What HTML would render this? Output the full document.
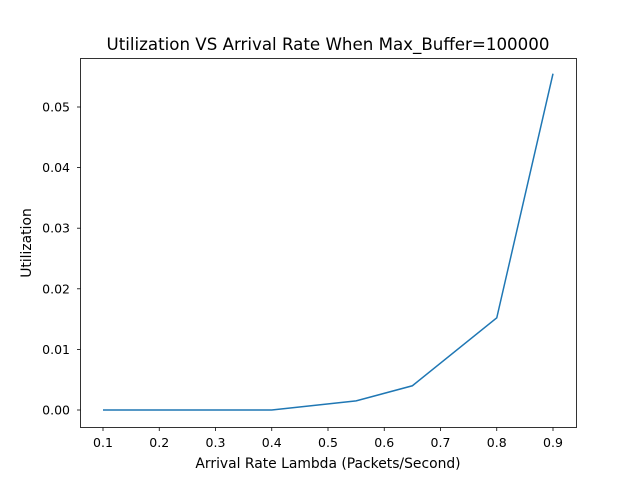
<!DOCTYPE html>
<html><head><meta charset="utf-8"><style>
body{margin:0;background:#fff;}
svg text{font-family:"DejaVu Sans","Liberation Sans",sans-serif;fill:#000;}
</style></head><body>
<svg id="chart" width="640" height="480">
<rect width="640" height="480" fill="#fff"/>
<text x="328" y="50" font-size="16.67" text-anchor="middle">Utilization VS Arrival Rate When Max_Buffer=100000</text>
<g id="ticks"></g>
<path id="line" fill="none" stroke="#1f77b4" stroke-width="1.5"/>
<rect x="80.5" y="58.5" width="496" height="369" fill="none" stroke="#000" stroke-width="0.8"/>
<text x="328" y="468" font-size="13.89" text-anchor="middle">Arrival Rate Lambda (Packets/Second)</text>
<text x="31" y="243" font-size="13.89" text-anchor="middle" transform="rotate(-90 31 243)">Utilization</text>
</svg>
<script>
const xs=[0.1,0.2,0.3,0.4,0.55,0.65,0.8,0.9];
const ys=[0,0,0,0,0.0015,0.004,0.0152,0.0555];
const xTicks=["0.1","0.2","0.3","0.4","0.5","0.6","0.7","0.8","0.9"];
const yTicks=["0.00","0.01","0.02","0.03","0.04","0.05"];
function X(v){return 103+(v-0.1)*562.5;}
function Y(v){return 410-v*6060;}
const NS="http://www.w3.org/2000/svg";
const g=document.getElementById('ticks');
xTicks.forEach(t=>{const x=X(+t);
const l=document.createElementNS(NS,'line');
l.setAttribute('x1',x);l.setAttribute('x2',x);l.setAttribute('y1',427.5);l.setAttribute('y2',431);l.setAttribute('stroke','#000');l.setAttribute('stroke-width','0.8');


g.appendChild(l);
const tx=document.createElementNS(NS,'text');
tx.setAttribute('x',x);tx.setAttribute('y',447);tx.setAttribute('font-size','12.5');tx.setAttribute('text-anchor','middle');tx.textContent=t;


g.appendChild(tx);});
yTicks.forEach(t=>{const y=Y(+t);
const l=document.createElementNS(NS,'line');
l.setAttribute('x1',77);l.setAttribute('x2',80.5);l.setAttribute('y1',y);l.setAttribute('y2',y);l.setAttribute('stroke','#000');l.setAttribute('stroke-width','0.8');


g.appendChild(l);
const tx=document.createElementNS(NS,'text');
tx.setAttribute('x',70);tx.setAttribute('y',y+4.5);tx.setAttribute('font-size','12.5');tx.setAttribute('text-anchor','end');tx.textContent=t;


g.appendChild(tx);});
document.getElementById('line').setAttribute('d',xs.map((v,i)=>(i?'L':'M')+X(v)+' '+Y(ys[i])).join(' '));
</script>
</body></html>
